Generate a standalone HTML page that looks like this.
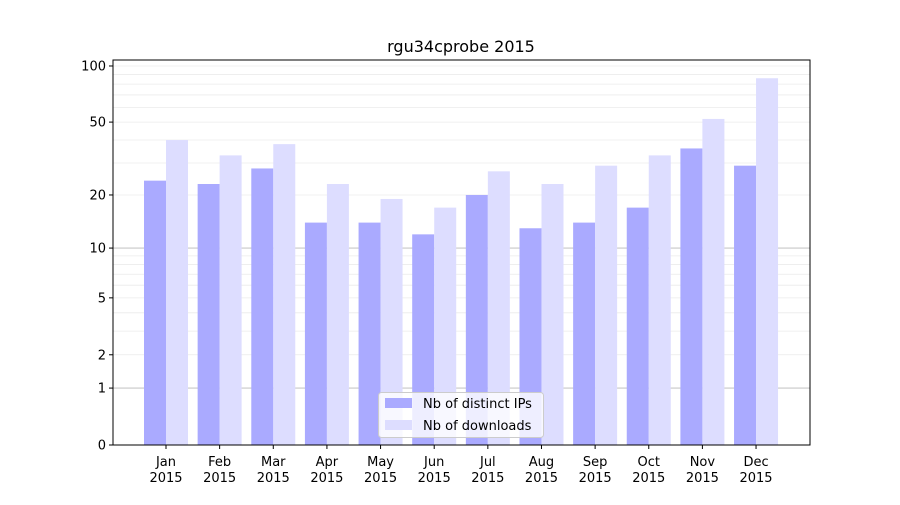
<!DOCTYPE html>
<html><head><meta charset="utf-8"><style>
body{margin:0;background:#fff;font-family:"Liberation Sans","DejaVu Sans",sans-serif;}
svg text{font-family:"DejaVu Sans","Liberation Sans",sans-serif;}
</style></head><body>
<svg id="chart" width="900" height="500" xmlns="http://www.w3.org/2000/svg">
<rect width="900" height="500" fill="#fff"/>
<text x="461" y="52" font-size="16" text-anchor="middle">rgu34cprobe 2015</text>
<g id="grid"></g><g id="bars"></g><g id="axes"></g>
</svg>
<script>
const months=["Jan","Feb","Mar","Apr","May","Jun","Jul","Aug","Sep","Oct","Nov","Dec"];
const distinctIPs=[24,23,28,14,14,12,20,13,14,17,36,29];
const downloads=[40,33,38,23,19,17,27,23,29,33,52,86];
const yTicks=[0,1,2,5,10,20,50,100];
const NS="http://www.w3.org/2000/svg";
const L=113,R=810,T=60,B=445;
function y(v){return B-189.1*Math.log10(v+1);}
function xc(i){return 166+i*53.64;}
function mk(tag,attrs,parent){const e=document.createElementNS(NS,tag);for(const k in attrs)e.setAttribute(k,attrs[k]);parent.appendChild(e);return e;}
const grid=document.getElementById('grid'),bars=document.getElementById('bars'),axes=document.getElementById('axes');
// minor grid
[2,3,4,5,6,7,8,9,20,30,40,50,60,70,80,90,100].forEach(v=>{
 const l=mk('line',{x1:L,x2:R,y1:y(v),y2:y(v),stroke:'#ebebeb','stroke-width':0.8},grid);
 
 
});
[1,10].forEach(v=>{
 const l=mk('line',{x1:L,x2:R,y1:y(v),y2:y(v),stroke:'#b8b8b8','stroke-width':0.8},grid);
 
 
});
months.forEach((m,i)=>{
 const b1=mk('rect',{x:xc(i)-22,y:y(distinctIPs[i]),width:22,height:B-y(distinctIPs[i]),fill:'#aaaaff'},bars);
 
 
 const b2=mk('rect',{x:xc(i),y:y(downloads[i]),width:22,height:B-y(downloads[i]),fill:'#ddddff'},bars);
 
 
 mk('line',{x1:xc(i),x2:xc(i),y1:B,y2:B+4,stroke:'#000'},axes);
 const t=mk('text',{x:xc(i),y:B+21,'font-size':13,'text-anchor':'middle'},axes);
 t.textContent=m;
 
 
 const t2=mk('text',{x:xc(i),y:B+37,'font-size':13,'text-anchor':'middle'},axes);
 t2.textContent='2015';
 
 
});
yTicks.forEach(v=>{
 mk('line',{x1:L-4,x2:L,y1:y(v),y2:y(v),stroke:'#000'},axes);
 const t=mk('text',{x:L-7,y:y(v)+4.5,'font-size':13,'text-anchor':'end'},axes);
 t.textContent=v;
 
 
});
const frame=mk('rect',{x:L,y:T,width:R-L,height:B-T,fill:'none',stroke:'#000','stroke-width':1},axes);


// legend
const lg=mk('g',{},axes);


mk('rect',{x:378.5,y:392.5,width:165,height:45,rx:3,fill:'#fff','fill-opacity':0.8,stroke:'#ccc'},lg);
mk('rect',{x:385,y:398,width:27,height:10,fill:'#aaaaff'},lg);
mk('rect',{x:385,y:420,width:27,height:10,fill:'#ddddff'},lg);
const l1=mk('text',{x:423,y:408,'font-size':13},lg);l1.textContent='Nb of distinct IPs';


const l2=mk('text',{x:423,y:430,'font-size':13},lg);l2.textContent='Nb of downloads';


</script>
</body></html>
